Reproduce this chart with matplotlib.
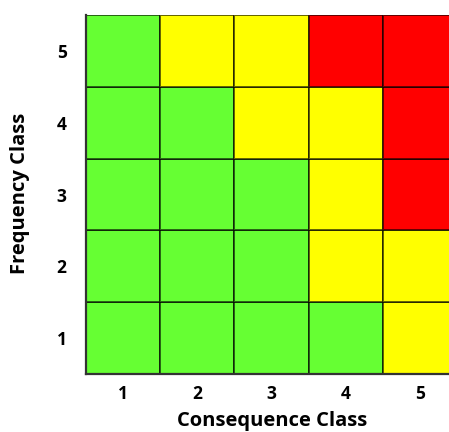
import numpy as np
import matplotlib
matplotlib.use("Agg")
import matplotlib.pyplot as plt
from matplotlib.colors import ListedColormap

plt.rcParams['font.family'] = ['Open Sans', 'DejaVu Sans']

consequence = [1, 2, 3, 4, 5]
frequency = [1, 2, 3, 4, 5]

# risk level per cell: 0 = green, 1 = yellow, 2 = red
# rows are frequency 1..5, columns consequence 1..5
risk = np.array([
    [0, 0, 0, 0, 1],   # F1
    [0, 0, 0, 1, 1],   # F2
    [0, 0, 0, 1, 2],   # F3
    [0, 0, 1, 1, 2],   # F4
    [0, 1, 1, 2, 2],   # F5
])

cmap = ListedColormap(['#66ff33', '#ffff00', '#ff0000'])

fig = plt.figure(figsize=(4.49, 4.32), dpi=100)
W, H = 449, 432
# grid spans x 86..457 (right column cut by the figure edge), y 15..374
ax = fig.add_axes([86 / W, (H - 374) / H, (449 - 86) / W, (374 - 15) / H])

ax.pcolormesh(np.arange(0.5, 6.5), np.arange(0.5, 6.5), risk, cmap=cmap,
              vmin=-0.5, vmax=2.5, edgecolor=(0, 0, 0, 0.6), linewidth=1.4)

ax.set_xlim(0.5, 0.5 + 5 * (449 - 86) / (457 - 86))
ax.set_ylim(0.5, 5.5)
ax.set_xticks(consequence)
ax.set_yticks(frequency)
ax.set_xticklabels([str(c) for c in consequence], fontsize=12.5, fontweight='bold')
ax.set_yticklabels([str(f) for f in frequency], fontsize=12.5, fontweight='bold')
ax.tick_params(length=0, pad=8)
ax.tick_params(axis='y', pad=14)
for s in ax.spines.values():
    s.set_visible(False)
ax.spines['left'].set_visible(True)
ax.spines['bottom'].set_visible(True)
ax.spines['left'].set_color('#333333')
ax.spines['bottom'].set_color('#333333')
ax.spines['left'].set_linewidth(1.6)
ax.spines['bottom'].set_linewidth(1.6)

fig.text(272 / W, 1 - 421 / H, 'Consequence Class', ha='center', va='center',
         fontsize=14.5, fontweight='bold')
fig.text(20 / W, 1 - 193 / H, 'Frequency Class', ha='center', va='center',
         rotation=90, fontsize=14.5, fontweight='bold')

fig.savefig('out.png', dpi=100)
